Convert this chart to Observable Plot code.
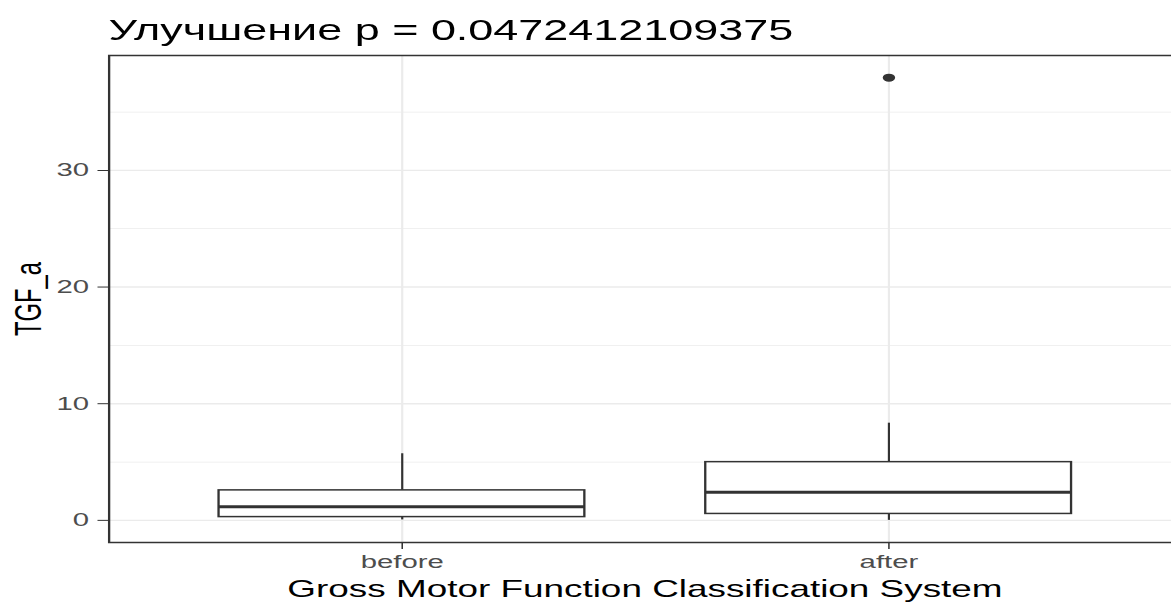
<!DOCTYPE html>
<html>
<head>
<meta charset="utf-8">
<script src="https://cdn.jsdelivr.net/npm/d3@7"></script>
<script src="https://cdn.jsdelivr.net/npm/@observablehq/plot@0.6"></script>
<style>
  html, body { margin: 0; padding: 0; overflow: hidden; background: #fff; }
  #stage { width: 756px; transform: scaleX(1.55); transform-origin: 0 0;
           font-family: "Liberation Sans", Arial, sans-serif; }
  #title { position: relative; height: 45px; }
  #title span { position: absolute; left: 70px; top: 15.5px; font-size: 29px; line-height: 1;
                color: #000; white-space: nowrap; }
  #stage svg { display: block; }
</style>
</head>
<body>
<div id="stage">
  <div id="title"><span>Улучшение p = 0.0472412109375</span></div>
  <div id="chart"></div>
</div>
<script>
// Box-plot summaries of TGF_a per group
const groups = ["before", "after"];
const lowerWhisker = [0.04, 0.0];
const q1 = [0.28, 0.55];
const median = [1.16, 2.42];
const q3 = [2.57, 4.99];
const upperWhisker = [5.71, 8.33];

// Points beyond the whiskers
const outlierGroup = ["after"];
const outlierValue = [37.95];

// Axis ticks and titles
const yTicks = [0, 10, 20, 30];
const yMinorTicks = [5, 15, 25, 35];
const xTitle = "Gross Motor Function Classification System";
const yTitle = "TGF_a";

const boxes = groups.map((g, i) => ({
  group: g, lo: lowerWhisker[i], q1: q1[i], med: median[i], q3: q3[i], hi: upperWhisker[i]
}));
const outliers = outlierGroup.map((g, i) => ({group: g, value: outlierValue[i]}));

// y extent padded by 5% on both sides
const allVals = [...lowerWhisker, ...upperWhisker, ...outlierValue];
const yMin = d3.min(allVals), yMax = d3.max(allVals);
const pad = 0.05 * (yMax - yMin);

const dark = "#333333";
const grid = "#ebebeb";

const chart = Plot.plot({
  width: 756,
  height: 557,
  marginTop: 10,
  marginBottom: 60,
  marginLeft: 69.9,
  marginRight: -5.3,
  style: {fontFamily: "'Liberation Sans', Arial, sans-serif", fontSize: "18.9px", color: dark, background: "white"},
  x: {type: "band", domain: groups, range: [69.9, 761.3], paddingInner: 0.25, paddingOuter: 0.225,
      tickSize: 7, tickPadding: 5, label: null},
  y: {domain: [yMin - pad, yMax + pad], ticks: yTicks, tickSize: 7, tickPadding: 6, label: null},
  marks: [
    Plot.ruleY(yMinorTicks, {stroke: grid, strokeWidth: 0.8}),
    Plot.ruleY(yTicks, {stroke: grid, strokeWidth: 1.4}),
    Plot.ruleX(groups, {x: d => d, stroke: grid, strokeWidth: 1.4}),
    Plot.ruleX(boxes, {x: "group", y1: "lo", y2: "q1", stroke: dark, strokeWidth: 1.4}),
    Plot.ruleX(boxes, {x: "group", y1: "q3", y2: "hi", stroke: dark, strokeWidth: 1.4}),
    Plot.barY(boxes, {x: "group", y1: "q1", y2: "q3", fill: "white", stroke: dark, strokeWidth: 1.5, inset: 0}),
    Plot.tickY(boxes, {x: "group", y: "med", stroke: dark, strokeWidth: 3}),
    Plot.dot(outliers, {x: "group", y: "value", r: 4, fill: dark, stroke: null}),
    Plot.frame({stroke: dark, strokeWidth: 1.5}),
    Plot.text([xTitle], {frameAnchor: "bottom", dy: 54, lineAnchor: "bottom", textAnchor: "middle",
                         fontSize: 23.8, fill: "black"}),
    Plot.text([yTitle], {frameAnchor: "left", dx: -44, rotate: -90, lineAnchor: "bottom", textAnchor: "middle",
                         fontSize: 23.8, fill: "black"})
  ]
});

document.getElementById("chart").appendChild(chart);
// tick labels in a softer grey than the tick marks
d3.select(chart).selectAll('[aria-label="y-axis tick label"], [aria-label="x-axis tick label"]')
  .attr("fill", "#4d4d4d");
</script>
</body>
</html>
